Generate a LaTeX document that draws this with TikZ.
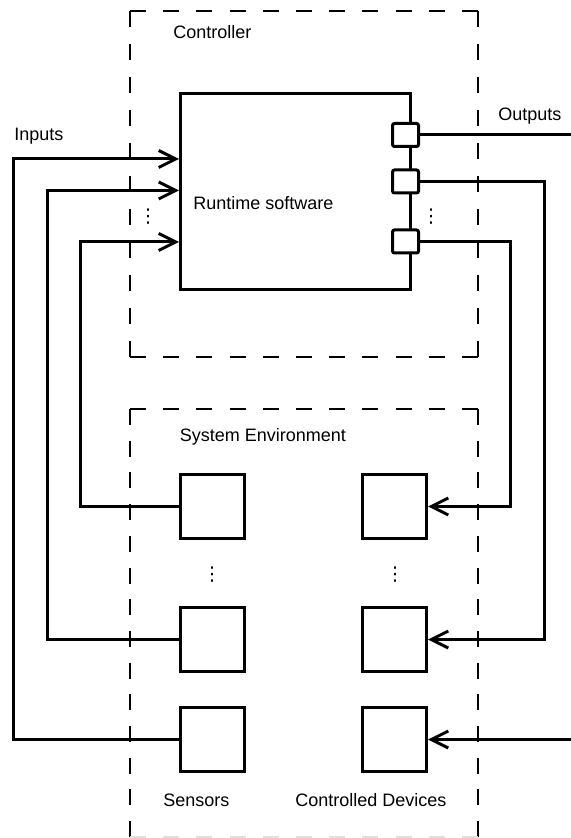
\documentclass[tikz,border=0pt]{standalone}
\usepackage{fontspec}
\setmainfont{Liberation Sans}
\newfontfamily\symfont{DejaVu Sans}
\usetikzlibrary{arrows.meta}
\begin{document}
\begin{tikzpicture}[x=0.5pt,y=-0.5pt,
  wire/.style={line width=1.5pt},
  arr/.style={wire,-{Straight Barb[length=8.5pt,width=8.5pt]}},
  blk/.style={draw,line width=1.5pt,inner sep=0pt,minimum width=32pt,minimum height=32pt},
  port/.style={draw,fill=white,line width=1.5pt,inner sep=0pt,minimum width=13pt,minimum height=11.5pt,rounded corners=1pt},
  lbl/.style={inner sep=0pt,anchor=base west,font=\fontsize{9}{11}\selectfont},
  dts/.style={inner sep=0pt,font=\symfont\fontsize{9.5}{11}\selectfont},
  dashh/.style={line width=1pt,dash pattern=on 8pt off 8.6pt},
  dashv/.style={line width=1pt,dash pattern=on 8pt off 8.5pt},
  dashe/.style={line width=1pt,dash pattern=on 8pt off 7.85pt}]
\useasboundingbox (0,0) rectangle (571,838);
% controller boundary
\coordinate (c1) at (130,11);
\coordinate (c2) at (478,11);
\coordinate (c3) at (478,357);
\coordinate (c4) at (130,357);
\draw[dashh] (c1) -- (c2);
\draw[dashv] (c2) -- (c3);
\draw[dashh] (c4) -- (c3);
\draw[dashv] (c1) -- (c4);
% environment boundary
\coordinate (e1) at (130,409);
\coordinate (e2) at (478,409);
\coordinate (e3) at (478,837);
\coordinate (e4) at (130,837);
\draw[dashh] (e1) -- (e2);
\draw[dashe] (e2) -- (e3);
\draw[dashe] (e1) -- (e4);
\draw[dashh,draw=black!12] (e4) -- (e3);
% labels
\node[lbl] (lc) at (173,38.5) {Controller};
\node[lbl] (lin) at (14,141) {Inputs};
\node[lbl] (lout) at (498,121) {Outputs};
\node[lbl] (lenv) at (179.5,441) {System Environment};
\node[lbl] (lsen) at (163,806) {Sensors};
\node[lbl] (ldev) at (295,806) {Controlled Devices};
% runtime
\node[draw,line width=1.5pt,inner sep=0pt,minimum width=115pt,minimum height=97.75pt] (rt) at (295.5,191.75) {};
\node[lbl] (lrt) at (193,209.5) {Runtime software};
\node[port] (p1) at (405.5,135) {};
\node[port] (p2) at (405.5,181.5) {};
\node[port] (p3) at (405.5,241.5) {};
% sensors and devices
\node[blk] (s1) at (212.75,506.5) {};
\node[blk] (s2) at (212.75,639.5) {};
\node[blk] (s3) at (212.75,739.5) {};
\node[blk] (d1) at (394.5,506.5) {};
\node[blk] (d2) at (394.5,639.5) {};
\node[blk] (d3) at (394.5,739.5) {};
% dots
\node[dts] (v1) at (148,217) {⋮};
\node[dts] (v2) at (431,217) {⋮};
\node[dts] (v3) at (212,575) {⋮};
\node[dts] (v4) at (395,575) {⋮};
% input wires
\coordinate (i1) at (13,159);
\coordinate (i2) at (47,190.5);
\coordinate (i3) at (80,242);
\draw[arr] (s3.west) -| (i1) -- (i1 -| rt.west);
\draw[arr] (s2.west) -| (i2) -- (i2 -| rt.west);
\draw[arr] (s1.west) -| (i3) -- (i3 -| rt.west);
% output wires
\coordinate (o1) at (571,135);
\coordinate (o2) at (544,639.5);
\coordinate (o3) at (510,506.5);
\coordinate (o4) at (571,739.5);
\draw[wire] (p1.east) -- (o1);
\draw[arr] (p2.east) -| (o2) -- (d2.east);
\draw[arr] (p3.east) -| (o3) -- (d1.east);
\draw[arr] (o4) -- (d3.east);
\end{tikzpicture}
\end{document}
